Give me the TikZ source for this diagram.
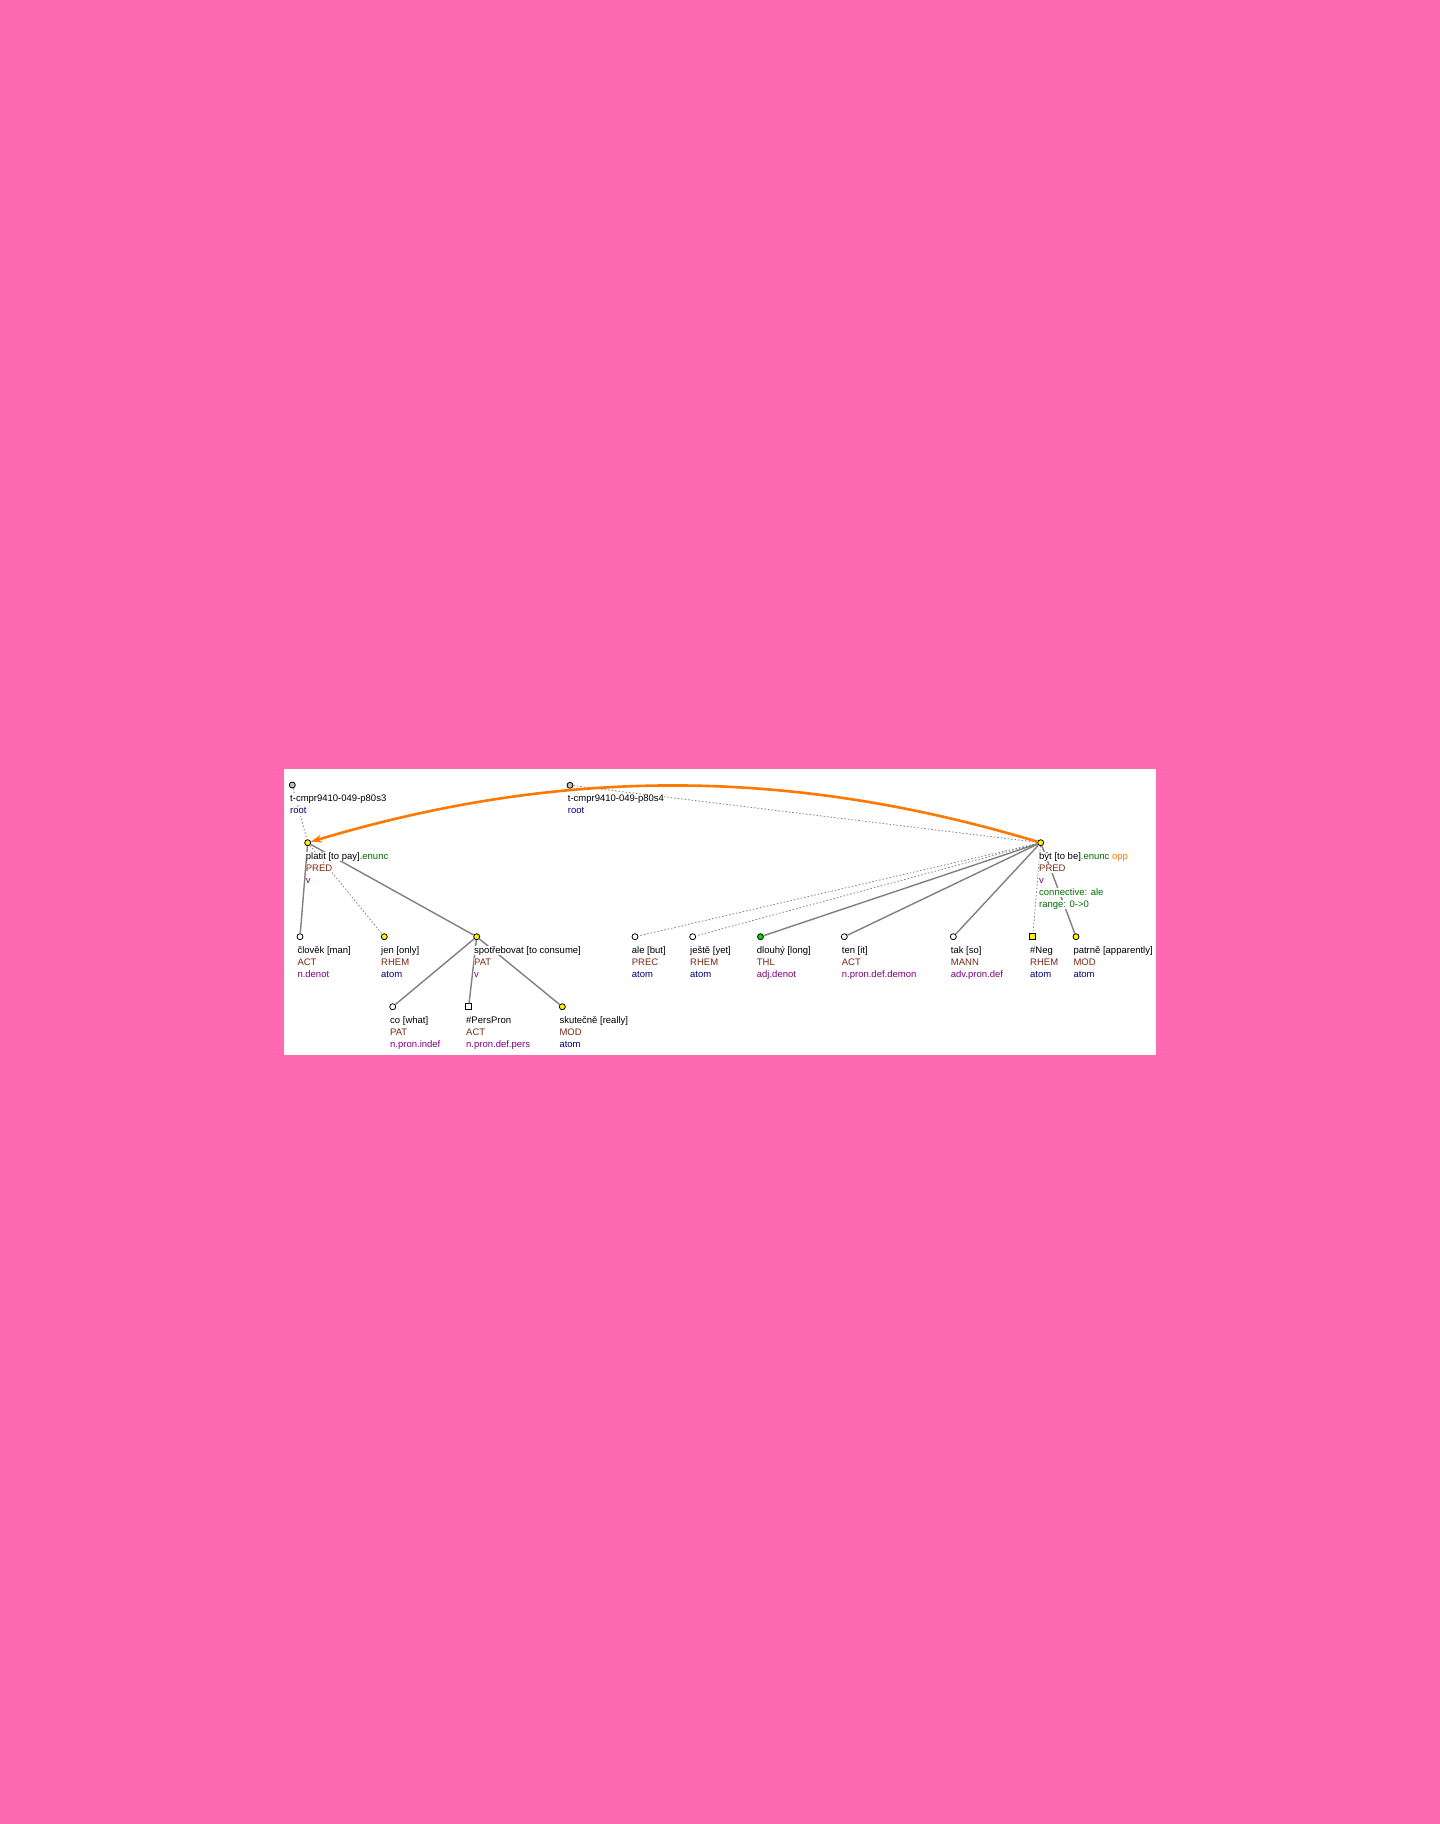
\documentclass[tikz,border=0pt]{standalone}
\usepackage{fontspec}
\setmainfont{Liberation Sans}
\usetikzlibrary{arrows.meta}
\definecolor{bgpink}{RGB}{255,105,176}
\definecolor{fncol}{RGB}{120,40,20}
\definecolor{purp}{RGB}{128,0,128}
\definecolor{navyc}{RGB}{0,0,128}
\definecolor{dgreen}{RGB}{0,110,0}
\definecolor{orng}{RGB}{255,120,0}
\definecolor{edgegray}{RGB}{128,128,128}
\definecolor{nodegreen}{RGB}{0,220,0}
\definecolor{rootgray}{RGB}{190,190,190}
\newcommand{\tlab}[6]{%
  \node[lbl] (#1a) at (#2,#3+14) {#4};
  \node[lbl,text=fncol] (#1b) at (#2,#3+26) {#5};
  \node[lbl] (#1c) at (#2,#3+38) {#6};}
\begin{document}
\begin{tikzpicture}[x=1pt,y=-1pt,
  tnode/.style={circle,draw=black,line width=0.8pt,inner sep=0pt,minimum size=6pt},
  ynode/.style={tnode,fill=yellow},
  wnode/.style={tnode,fill=white},
  gnode/.style={tnode,fill=nodegreen},
  rnode/.style={tnode,fill=rootgray},
  sqnode/.style={rectangle,draw=black,line width=0.8pt,inner sep=0pt,minimum size=6pt},
  solidedge/.style={draw=edgegray,line width=1.4pt},
  dotedge/.style={draw=edgegray,line width=0.8pt,dash pattern=on 1.5pt off 2pt},
  lbl/.style={anchor=west,inner sep=0pt,fill=white,font=\fontsize{9.5}{12}\selectfont,text height=7pt,text depth=2pt},
]
\useasboundingbox (0,0) rectangle (1440,1824);
\fill[bgpink] (0,0) rectangle (1440,1824);
\fill[white] (284,769) rectangle (1156,1055);

% tree nodes
\node[rnode] (r1) at (292.3,785) {};
\node[rnode] (r2) at (570,785.3) {};
\node[ynode] (platit) at (307.7,842.7) {};
\node[ynode] (byt) at (1040.7,842.7) {};
\node[wnode] (clovek) at (300,936.7) {};
\node[ynode] (jen) at (384.3,936.7) {};
\node[ynode] (spotr) at (476.7,936.7) {};
\node[wnode] (ale) at (635,936.7) {};
\node[wnode] (jeste) at (692.7,936.7) {};
\node[gnode] (dlouhy) at (760.5,936.7) {};
\node[wnode] (ten) at (844.3,936.7) {};
\node[wnode] (tak) at (953.3,936.7) {};
\node[sqnode,fill=yellow] (neg) at (1032.7,936.7) {};
\node[ynode] (patrne) at (1076,936.7) {};
\node[wnode] (co) at (392.7,1006.7) {};
\node[sqnode,fill=white] (pers) at (468.7,1006.7) {};
\node[ynode] (skut) at (562.3,1006.7) {};

% edges
\draw[dotedge] (r1) -- (platit);
\draw[solidedge] (platit) -- (clovek);
\draw[dotedge] (platit) -- (jen);
\draw[solidedge] (platit) -- (spotr);
\draw[solidedge] (spotr) -- (co);
\draw[solidedge] (spotr) -- (pers);
\draw[solidedge] (spotr) -- (skut);
\draw[dotedge] (r2) -- (byt);
\draw[dotedge] (byt) -- (ale);
\draw[dotedge] (byt) -- (jeste);
\draw[solidedge] (byt) -- (dlouhy);
\draw[solidedge] (byt) -- (ten);
\draw[solidedge] (byt) -- (tak);
\draw[dotedge] (byt) -- (neg);
\draw[solidedge] (byt) -- (patrne);

% labels
\node[lbl] (r1a) at (290,799) {t-cmpr9410-049-p80s3};
\node[lbl,text=navyc] (r1b) at (290,811) {root};
\node[lbl] (r2a) at (567.7,799) {t-cmpr9410-049-p80s4};
\node[lbl,text=navyc] (r2b) at (567.7,811) {root};

\tlab{platit}{305.7}{842.7}{platit [to pay]{\color{dgreen}.enunc}}{PRED}{\color{purp}v}
\tlab{byt}{1039}{842.7}{být [to be]{\color{dgreen}.enunc} {\color{orng}opp}}{PRED}{\color{purp}v}
\node[lbl,text=dgreen] (bytd) at (1039,892.7) {connective: ale};
\node[lbl,text=dgreen] (byte) at (1039,904.7) {range: 0->0};

\tlab{clovek}{297.3}{936.7}{člověk [man]}{ACT}{\color{purp}n.denot}
\tlab{jen}{381}{936.7}{jen [only]}{RHEM}{\color{navyc}atom}
\tlab{spotr}{474}{936.7}{spotřebovat [to consume]}{PAT}{\color{purp}v}
\tlab{ale}{631.7}{936.7}{ale [but]}{PREC}{\color{navyc}atom}
\tlab{jeste}{690}{936.7}{ještě [yet]}{RHEM}{\color{navyc}atom}
\tlab{dlouhy}{756.7}{936.7}{dlouhý [long]}{THL}{\color{purp}adj.denot}
\tlab{ten}{841.7}{936.7}{ten [it]}{ACT}{\color{purp}n.pron.def.demon}
\tlab{tak}{950.7}{936.7}{tak [so]}{MANN}{\color{purp}adv.pron.def}
\tlab{neg}{1030}{936.7}{\#Neg}{RHEM}{\color{navyc}atom}
\tlab{patrne}{1073.3}{936.7}{patrně [apparently]}{MOD}{\color{navyc}atom}
\tlab{co}{390}{1006.7}{co [what]}{PAT}{\color{purp}n.pron.indef}
\tlab{pers}{466}{1006.7}{\#PersPron}{ACT}{\color{purp}n.pron.def.pers}
\tlab{skut}{559.3}{1006.7}{skutečně [really]}{MOD}{\color{navyc}atom}

% coreference arrow
\draw[orng,line width=2.6pt,-{Stealth[length=11pt,width=8pt]}] (byt) .. controls (789,767) and (560,767) .. (platit);
\end{tikzpicture}
\end{document}
